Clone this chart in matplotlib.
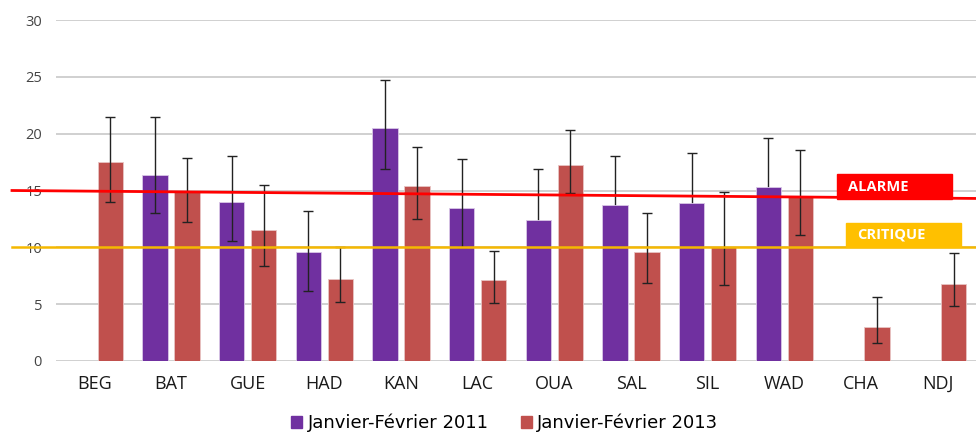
import matplotlib
matplotlib.use("Agg")
import matplotlib.pyplot as plt
import numpy as np
from matplotlib.patches import Rectangle
from matplotlib.transforms import blended_transform_factory

categories = ["BEG", "BAT", "GUE", "HAD", "KAN", "LAC", "OUA", "SAL", "SIL", "WAD", "CHA", "NDJ"]
v2011 = [np.nan, 16.4, 14.0, 9.6, 20.5, 13.5, 12.4, 13.7, 13.9, 15.3, np.nan, np.nan]
lo2011 = [np.nan, 13.0, 10.6, 6.2, 16.9, 10.0, 7.8, 9.4, 9.5, 10.9, np.nan, np.nan]
hi2011 = [np.nan, 21.5, 18.0, 13.2, 24.7, 17.8, 16.9, 18.0, 18.3, 19.6, np.nan, np.nan]
hidden_low_2011 = [False, False, False, False, False, False, True, True, True, True, False, False]
v2013 = [17.5, 14.9, 11.5, 7.2, 15.4, 7.1, 17.2, 9.6, 10.05, 14.4, 3.0, 6.8]
lo2013 = [14.0, 12.25, 8.4, 5.15, 12.5, 5.1, 14.8, 6.9, 6.7, 11.1, 1.6, 4.85]
hi2013 = [21.5, 17.9, 15.5, 10.0, 18.85, 9.7, 20.3, 13.0, 14.85, 18.55, 5.6, 9.5]
alarm_start, alarm_end = 15.0, 14.3
critique = 10.0
yticks = [0, 5, 10, 15, 20, 25, 30]

purple = "#7030A0"
red = "#C0504D"

fig = plt.figure(figsize=(9.76, 4.32), dpi=100)
ax = fig.add_axes([56/976, 1-361/432, 1-56/976, (361-20)/432])

x = np.arange(len(categories))
w = 0.33
off = 0.21
v11 = np.array(v2011, float); v13 = np.array(v2013, float)
ax.bar(x - off, v11, w, color=purple, edgecolor="#D9C8E6", linewidth=0.6, zorder=3)
ax.bar(x + off, v13, w, color=red, edgecolor="#E8C4C3", linewidth=0.6, zorder=3)

ekw = dict(fmt="none", ecolor="#222222", elinewidth=1.0, capsize=3.5, capthick=1.0)
hid = np.array(hidden_low_2011)
lo11 = np.array(lo2011, float); hi11 = np.array(hi2011, float)
vis = ~hid & ~np.isnan(v11)
ax.errorbar((x - off)[vis], v11[vis], yerr=[v11[vis]-lo11[vis], hi11[vis]-v11[vis]], zorder=4, **ekw)
ax.errorbar((x - off)[hid], v11[hid], yerr=[v11[hid]-lo11[hid], hi11[hid]-v11[hid]], zorder=2, **ekw)
lo13 = np.array(lo2013, float); hi13 = np.array(hi2013, float)
ax.errorbar(x + off, v13, yerr=[v13-lo13, hi13-v13], zorder=4, **ekw)

ax.set_xlim(-0.5, len(categories) - 0.5)
ax.set_ylim(0, 30)
ax.set_yticks(yticks)
ax.set_xticks(x)
ax.set_xticklabels(categories, fontfamily="Open Sans", fontsize=13, color="#1a1a1a")
ax.set_yticklabels([str(t) for t in yticks], fontfamily="Open Sans", fontsize=10.5, color="#444444")
ax.tick_params(axis="both", length=0)
ax.tick_params(axis="x", pad=10)
ax.tick_params(axis="y", pad=10)
ax.grid(axis="y", color="#D0D0D0", linewidth=1.4, zorder=0)
ax.set_axisbelow(True)
for s in ax.spines.values():
    s.set_visible(False)

tr = blended_transform_factory(ax.transAxes, ax.transData)
x0 = (12 - 56) / 920
ax.plot([x0, 1.0], [alarm_start, alarm_end], color="#FF0000", linewidth=2, transform=tr, clip_on=False, zorder=6)
ax.plot([x0, 1.0], [critique, critique], color="#F5B800", linewidth=1.8, transform=tr, clip_on=False, zorder=6)

ax.add_patch(Rectangle(((837-56)/920, 14.25), (952-837)/920, 2.2, transform=tr, color="#FF0000", zorder=7, clip_on=False))
ax.text((848-56)/920, 15.35, "ALARME", transform=tr, color="white", fontweight="bold", fontfamily="Open Sans",
        fontsize=10.5, va="center", ha="left", zorder=8)
ax.add_patch(Rectangle(((846-56)/920, 10.05), (961-846)/920, 2.1, transform=tr, color="#FFC000", zorder=7, clip_on=False))
ax.text((857-56)/920, 11.1, "CRITIQUE", transform=tr, color="white", fontweight="bold", fontfamily="Open Sans",
        fontsize=10.5, va="center", ha="left", zorder=8)

h1 = Rectangle((0, 0), 1, 1, color=purple)
h2 = Rectangle((0, 0), 1, 1, color=red)
fig.legend([h1, h2], ["Janvier-Février 2011", "Janvier-Février 2013"], loc="center", bbox_to_anchor=(505/976, 1-423/432),
           ncol=2, frameon=False, handlelength=0.6, handleheight=0.6, handletextpad=0.3, columnspacing=1.8,
           prop={"family": "DejaVu Sans", "size": 13})

fig.savefig("out.png", dpi=100)
